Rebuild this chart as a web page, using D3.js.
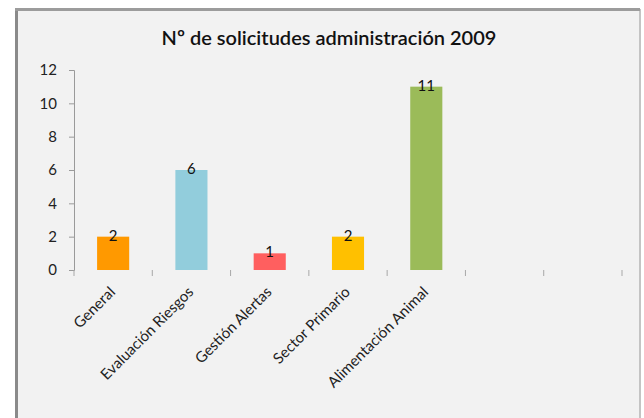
<!DOCTYPE html>
<html>
<head>
<meta charset="utf-8">
<script src="https://cdn.jsdelivr.net/npm/d3@7"></script>
<style>
  body { margin: 0; background: #fff; }
  svg { display: block; font-family: Lato, "Open Sans", sans-serif; }
</style>
</head>
<body>
<div id="chart"></div>
<script>
// chart data
const categories = ["General", "Evaluación Riesgos", "Gestión Alertas", "Sector Primario", "Alimentación Animal", "", " "];
const values = [2, 6, 1, 2, 11, null, null];
const barColors = ["#ff9900", "#92cddc", "#ff5f5f", "#ffc000", "#9bbb59", "#ccc", "#ccc"];
const yTicks = [0, 2, 4, 6, 8, 10, 12];
const title = "Nº de solicitudes administración 2009";

const width = 644;
const height = 418;

const svg = d3.select("#chart").append("svg")
    .attr("width", width)
    .attr("height", height);

// chart area frame
svg.append("rect")
    .attr("x", 17).attr("y", 10)
    .attr("width", 623).attr("height", 420)
    .attr("fill", "#f2f2f2")
    .attr("stroke", "#c4c4c4")
    .attr("stroke-width", 2);
svg.append("line")
    .attr("x1", 16.5).attr("x2", 16.5).attr("y1", 8).attr("y2", height)
    .attr("stroke", "#8a8a8a").attr("stroke-width", 3);
svg.append("line")
    .attr("x1", 15).attr("x2", 640).attr("y1", 9.5).attr("y2", 9.5)
    .attr("stroke", "#9c9c9c").attr("stroke-width", 3);

// scales
const x = d3.scaleBand()
    .domain(categories)
    .range([74, 622])
    .paddingInner(0.59)
    .paddingOuter(0.295);

const y = d3.scaleLinear()
    .domain([0, 12])
    .range([270, 70]);

// title
svg.append("text")
    .attr("x", 329)
    .attr("y", 45)
    .attr("text-anchor", "middle")
    .attr("font-size", 20)
    .attr("font-weight", 600)
    .attr("fill", "#111")
    .text(title);

// y axis
const yAxis = svg.append("g")
    .attr("transform", "translate(74,0)")
    .call(d3.axisLeft(y).tickValues(yTicks).tickSize(5).tickPadding(12));
yAxis.select(".domain").attr("stroke", "#9a9a9a");
yAxis.selectAll(".tick line").attr("stroke", "#9a9a9a");
yAxis.selectAll(".tick text")
    .attr("font-size", 15)
    .attr("fill", "#222")
    .attr("font-family", "Lato, sans-serif");

// category tick marks (between bands)
svg.append("g")
    .selectAll("line")
    .data(d3.range(categories.length + 1))
    .join("line")
    .attr("x1", i => x.range()[0] + i * (x.range()[1] - x.range()[0]) / categories.length)
    .attr("x2", i => x.range()[0] + i * (x.range()[1] - x.range()[0]) / categories.length)
    .attr("y1", y(0))
    .attr("y2", y(0) + 6)
    .attr("stroke", "#a8a8a8");

// bars
const data = categories.map((c, i) => ({ cat: c, value: values[i], color: barColors[i] }))
    .filter(d => d.value != null);

svg.append("g")
    .selectAll("rect")
    .data(data)
    .join("rect")
    .attr("x", d => x(d.cat))
    .attr("y", d => y(d.value))
    .attr("width", x.bandwidth())
    .attr("height", d => y(0) - y(d.value))
    .attr("fill", d => d.color);

// value labels
svg.append("g")
    .selectAll("text")
    .data(data)
    .join("text")
    .attr("x", d => x(d.cat) + x.bandwidth() / 2)
    .attr("y", d => y(d.value) + 4)
    .attr("text-anchor", "middle")
    .attr("font-size", 15)
    .attr("fill", "#111")
    .text(d => d.value);

// category labels rotated
svg.append("g")
    .selectAll("text")
    .data(data)
    .join("text")
    .attr("transform", d => `translate(${x(d.cat) + x.bandwidth() / 2 + 3},${y(0) + 23}) rotate(-45)`)
    .attr("text-anchor", "end")
    .attr("font-size", 15)
    .attr("fill", "#222")
    .text(d => d.cat);
</script>
</body>
</html>
